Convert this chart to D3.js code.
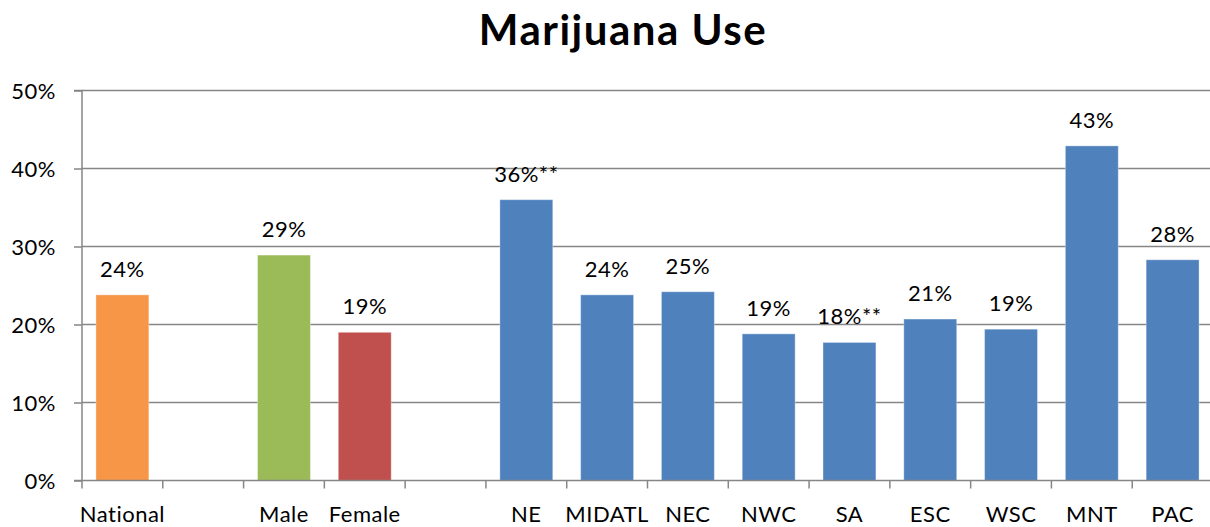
<!DOCTYPE html>
<html>
<head>
<meta charset="utf-8">
<script src="https://cdn.jsdelivr.net/npm/d3@7"></script>
<style>
  html, body { margin: 0; padding: 0; background: #fff; }
  svg { display: block; }
  text { font-family: Lato, "Open Sans", sans-serif; fill: #000; }
</style>
</head>
<body>
<svg id="chart" width="1210" height="527"></svg>
<script>
const categories = ["National", "", "Male", "Female", "", "NE", "MIDATL", "NEC", "NWC", "SA", "ESC", "WSC", "MNT", "PAC"];
const values     = [23.8, null, 28.9, 19.0, null, 36.0, 23.8, 24.2, 18.8, 17.7, 20.7, 19.4, 42.9, 28.3];
const dataLabels = ["24%", "", "29%", "19%", "", "36%**", "24%", "25%", "19%", "18%**", "21%", "19%", "43%", "28%"];
const barColors  = ["#F79646", null, "#9BBB59", "#C0504D", null, "#4F81BD", "#4F81BD", "#4F81BD", "#4F81BD", "#4F81BD", "#4F81BD", "#4F81BD", "#4F81BD", "#4F81BD"];
const yTicks     = [0, 10, 20, 30, 40, 50];
const yTickLabels = ["0%", "10%", "20%", "30%", "40%", "50%"];
const title = "Marijuana Use";

(function () {
const svg = d3.select("#chart");
const pL = 82, pR = 1213, pT = 90.5, pB = 480.5;
const fs = "22px", ls = "0.5px";

const x = d3.scaleBand()
  .domain(categories.map((d, i) => i))
  .range([pL, pR])
  .paddingInner(0.345)
  .paddingOuter(0.1725);

const y = d3.scaleLinear().domain([0, 50]).range([pB, pT]);

const gridColor = "#868686";

svg.append("g")
  .selectAll("line")
  .data(yTicks.filter(t => t > 0))
  .join("line")
  .attr("x1", pL).attr("x2", pR)
  .attr("y1", d => y(d)).attr("y2", d => y(d))
  .attr("stroke", gridColor).attr("stroke-width", 1.5);

const yAxis = d3.axisLeft(y).tickValues(yTicks).tickSize(8).tickPadding(18)
  .tickFormat((d, i) => yTickLabels[i]);
const gy = svg.append("g").attr("transform", `translate(${pL},0)`).call(yAxis);
gy.select(".domain").attr("stroke", gridColor).attr("stroke-width", 1.5).attr("d", `M-8,${pT}H0V${pB}H-8`);
gy.selectAll(".tick line").attr("stroke", gridColor).attr("stroke-width", 1.5);
gy.selectAll(".tick text").style("font-size", fs).style("letter-spacing", ls).style("font-family", "Lato, sans-serif").attr("fill", "#000").attr("dy", "0.36em");

const idx = values.map((v, i) => i).filter(i => values[i] != null);
svg.append("g")
  .selectAll("rect")
  .data(idx)
  .join("rect")
  .attr("x", i => x(i))
  .attr("width", x.bandwidth())
  .attr("y", i => y(values[i]))
  .attr("height", i => y(0) - y(values[i]))
  .attr("fill", i => barColors[i])
  .attr("stroke", "rgba(255,255,255,0.35)")
  .attr("stroke-width", 1);

const step = x.step();
const boundaries = d3.range(categories.length + 1).map(k => pL + k * step);
svg.append("line")
  .attr("x1", pL).attr("x2", pR)
  .attr("y1", pB).attr("y2", pB)
  .attr("stroke", gridColor).attr("stroke-width", 1.5);
svg.append("g")
  .selectAll("line")
  .data(boundaries)
  .join("line")
  .attr("x1", d => d).attr("x2", d => d)
  .attr("y1", pB).attr("y2", pB + 8)
  .attr("stroke", gridColor).attr("stroke-width", 1.5);

svg.append("g")
  .selectAll("text")
  .data(categories.map((c, i) => i).filter(i => categories[i] !== ""))
  .join("text")
  .attr("x", i => x(i) + x.bandwidth() / 2)
  .attr("y", 522)
  .attr("text-anchor", "middle")
  .style("font-size", fs)
  .style("letter-spacing", ls)
  .text(i => categories[i]);

svg.append("g")
  .selectAll("text")
  .data(idx)
  .join("text")
  .attr("x", i => x(i) + x.bandwidth() / 2)
  .attr("y", i => y(values[i]) - 18)
  .attr("text-anchor", "middle")
  .style("font-size", fs)
  .style("letter-spacing", ls)
  .text(i => dataLabels[i]);

svg.append("text")
  .attr("x", 623)
  .attr("y", 45)
  .attr("text-anchor", "middle")
  .style("font-size", "42px")
  .style("letter-spacing", "1.5px")
  .style("font-weight", "bold")
  .text(title);
})();
</script>
</body>
</html>
